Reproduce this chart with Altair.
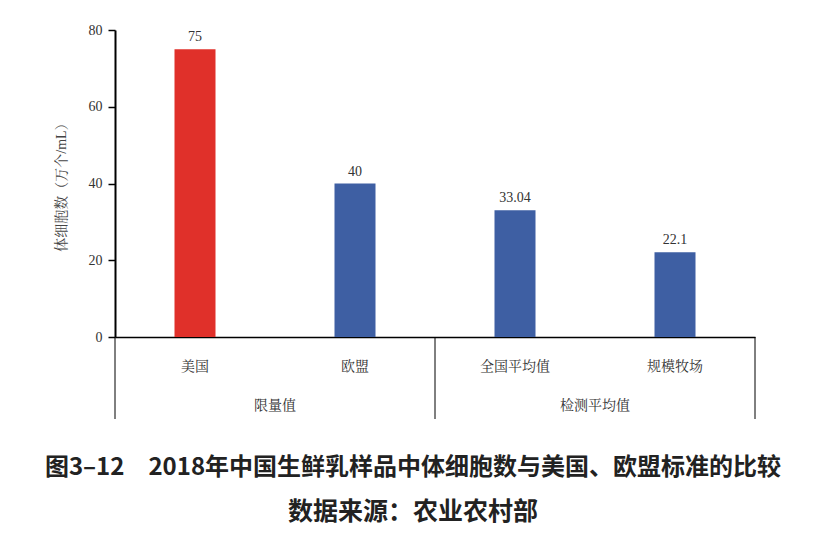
import altair as alt
import pandas as pd

categories = ["美国", "欧盟", "全国平均值", "规模牧场"]
values = [75, 40, 33.04, 22.1]
value_labels = ["75", "40", "33.04", "22.1"]
groups = ["限量值", "限量值", "检测平均值", "检测平均值"]
bar_colors = ["#E0302A", "#3E5FA3", "#3E5FA3", "#3E5FA3"]
y_ticks = [0, 20, 40, 60, 80]

title_text = "图3–12　2018年中国生鲜乳样品中体细胞数与美国、欧盟标准的比较"
subtitle_text = "数据来源：农业农村部"

df = pd.DataFrame({
    "category": categories,
    "value": values,
    "label": value_labels,
    "group": groups,
    "color": bar_colors,
})

left_edges = df.groupby("group", sort=False).head(1)
right_edge = df.tail(1)
group_label_pos = df.groupby("group", sort=False).nth(1)

W, H = 640, 307
SERIF = "Liberation Serif, Noto Serif CJK SC, Noto Sans CJK SC"
SANS = "Noto Sans CJK SC"

xscale = alt.Scale(domain=categories, paddingInner=0, paddingOuter=0)

base = alt.Chart(df)

bars = base.mark_bar(width=41).encode(
    x=alt.X("category:N", scale=xscale, sort=categories,
            axis=alt.Axis(title=None, labelAngle=0, ticks=False, domain=True,
                          domainColor="#000", domainWidth=1.5,
                          labelFont=SERIF, labelFontSize=14, labelColor="#333",
                          labelPadding=22)),
    y=alt.Y("value:Q", scale=alt.Scale(domain=[0, 80], nice=False),
            axis=alt.Axis(title="体细胞数（万个/mL）", values=y_ticks, grid=False,
                          domainColor="#000", domainWidth=2, tickColor="#000",
                          tickWidth=1.5, tickSize=7, labelFont=SERIF,
                          labelFontSize=14, labelColor="#333", labelPadding=6,
                          titleFont=SERIF, titleFontSize=14, titleFontWeight="normal",
                          titleColor="#444", titlePadding=20)),
    color=alt.Color("color:N", scale=None),
)

texts = base.mark_text(dy=-12, font=SERIF, fontSize=14, color="#333").encode(
    x=alt.X("category:N", scale=xscale, sort=categories),
    y="value:Q",
    text="label:N",
)

left_rules = alt.Chart(left_edges).mark_rule(color="#000", strokeWidth=1).encode(
    x=alt.X("category:N", scale=xscale, sort=categories, bandPosition=0),
    y=alt.value(H),
    y2=alt.value(H + 82),
)
right_rules = alt.Chart(right_edge).mark_rule(color="#000", strokeWidth=1).encode(
    x=alt.X("category:N", scale=xscale, sort=categories, bandPosition=1),
    y=alt.value(H),
    y2=alt.value(H + 82),
)
group_texts = alt.Chart(group_label_pos).mark_text(
    font=SERIF, fontSize=14, color="#333", baseline="middle"
).encode(
    x=alt.X("category:N", scale=xscale, sort=categories, bandPosition=0),
    y=alt.value(H + 69),
    text="group:N",
)

chart = alt.layer(bars, texts, left_rules, right_rules, group_texts).properties(
    width=W,
    height=H,
    autosize=alt.AutoSizeParams(type="none"),
    padding={"left": 115, "top": 30, "right": 72, "bottom": 202},
    title=alt.TitleParams(
        text=title_text,
        subtitle=subtitle_text,
        orient="bottom",
        anchor="middle",
        font=SANS,
        fontSize=24,
        fontWeight="bold",
        color="#222",
        subtitleFont=SANS,
        subtitleFontSize=25,
        subtitleFontWeight="bold",
        subtitleColor="#222",
        subtitlePadding=20,
        offset=36,
        dx=-22,
    ),
).configure(background="#ffffff", view=alt.ViewConfig(stroke=None))

chart.save("out.html", embed_options={"renderer": "svg", "actions": False})
